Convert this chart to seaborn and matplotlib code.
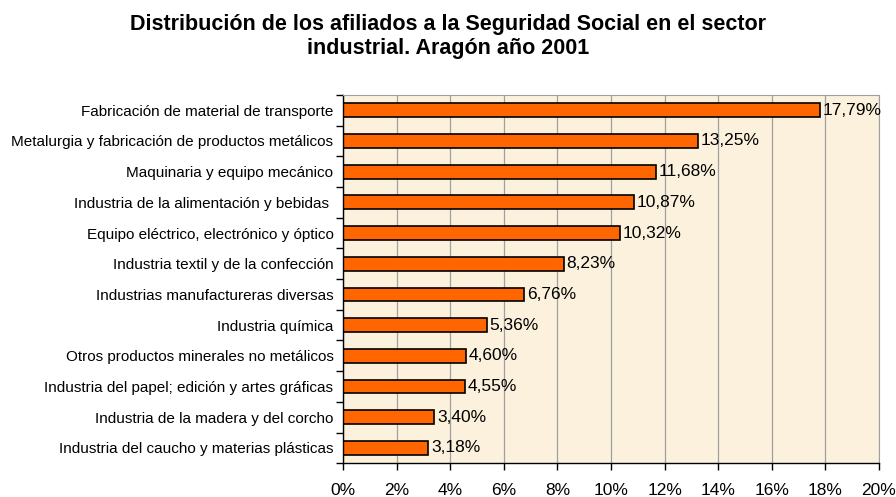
import matplotlib.pyplot as plt
import numpy as np
import seaborn as sns
from matplotlib.ticker import FuncFormatter

# datos
sectores = [
    "Fabricación de material de transporte",
    "Metalurgia y fabricación de productos metálicos",
    "Maquinaria y equipo mecánico",
    "Industria de la alimentación y bebidas ",
    "Equipo eléctrico, electrónico y óptico",
    "Industria textil y de la confección",
    "Industrias manufactureras diversas",
    "Industria química",
    "Otros productos minerales no metálicos",
    "Industria del papel; edición y artes gráficas",
    "Industria de la madera y del corcho",
    "Industria del caucho y materias plásticas",
]
porcentajes = [17.79, 13.25, 11.68, 10.87, 10.32, 8.23, 6.76, 5.36, 4.60, 4.55, 3.40, 3.18]
ticks_x = [0, 2, 4, 6, 8, 10, 12, 14, 16, 18, 20]

sns.set_style("white")
plt.rcParams['font.family'] = ['Liberation Sans', 'DejaVu Sans']
plt.rcParams['text.color'] = 'black'
plt.rcParams['xtick.color'] = 'black'
plt.rcParams['ytick.color'] = 'black'

fig = plt.figure(figsize=(8.96, 4.97), dpi=100)
ax = fig.add_axes([0.383, 0.068, 0.598, 0.741])
ax.set_facecolor("#FCF1DC")

sns.barplot(x=porcentajes, y=sectores, orient="h", color="#FF6600",
            edgecolor="black", linewidth=1.2, width=0.45, saturation=1, ax=ax)

ax.set_xlim(0, 20)
ax.set_ylim(len(sectores) - 0.5, -0.5)
ax.set_xticks(ticks_x)
ax.xaxis.set_major_formatter(FuncFormatter(lambda v, p: f"{v:.0f}%"))
ax.grid(axis="x", color="#A0A0A0", linewidth=0.9)
ax.set_axisbelow(True)

# marcas del eje y entre categorias
ax.set_yticks(np.arange(len(sectores)))
ax.set_yticks(np.arange(len(sectores) + 1) - 0.5, minor=True)
ax.tick_params(axis="y", which="major", length=0, labelsize=11, pad=7)
ax.tick_params(axis="y", which="minor", length=5, width=1, color="black", left=True)
ax.tick_params(axis="x", length=5, width=1, color="black", bottom=True,
               labelsize=12.5, pad=9)

for lado in ["top", "right"]:
    ax.spines[lado].set_color("#A0A0A0")
for lado in ["left", "bottom"]:
    ax.spines[lado].set_color("black")
    ax.spines[lado].set_linewidth(1)

for i, v in enumerate(porcentajes):
    ax.text(v + 0.1, i, f"{v:.2f}%".replace(".", ","), va="center",
            ha="left", fontsize=12.5)

fig.suptitle("Distribución de los afiliados a la Seguridad Social en el sector\n"
             "industrial. Aragón año 2001", fontsize=15.5, fontweight="bold",
             x=0.5, y=0.927, va="center", linespacing=1.2)

fig.savefig("out.png", dpi=100)
